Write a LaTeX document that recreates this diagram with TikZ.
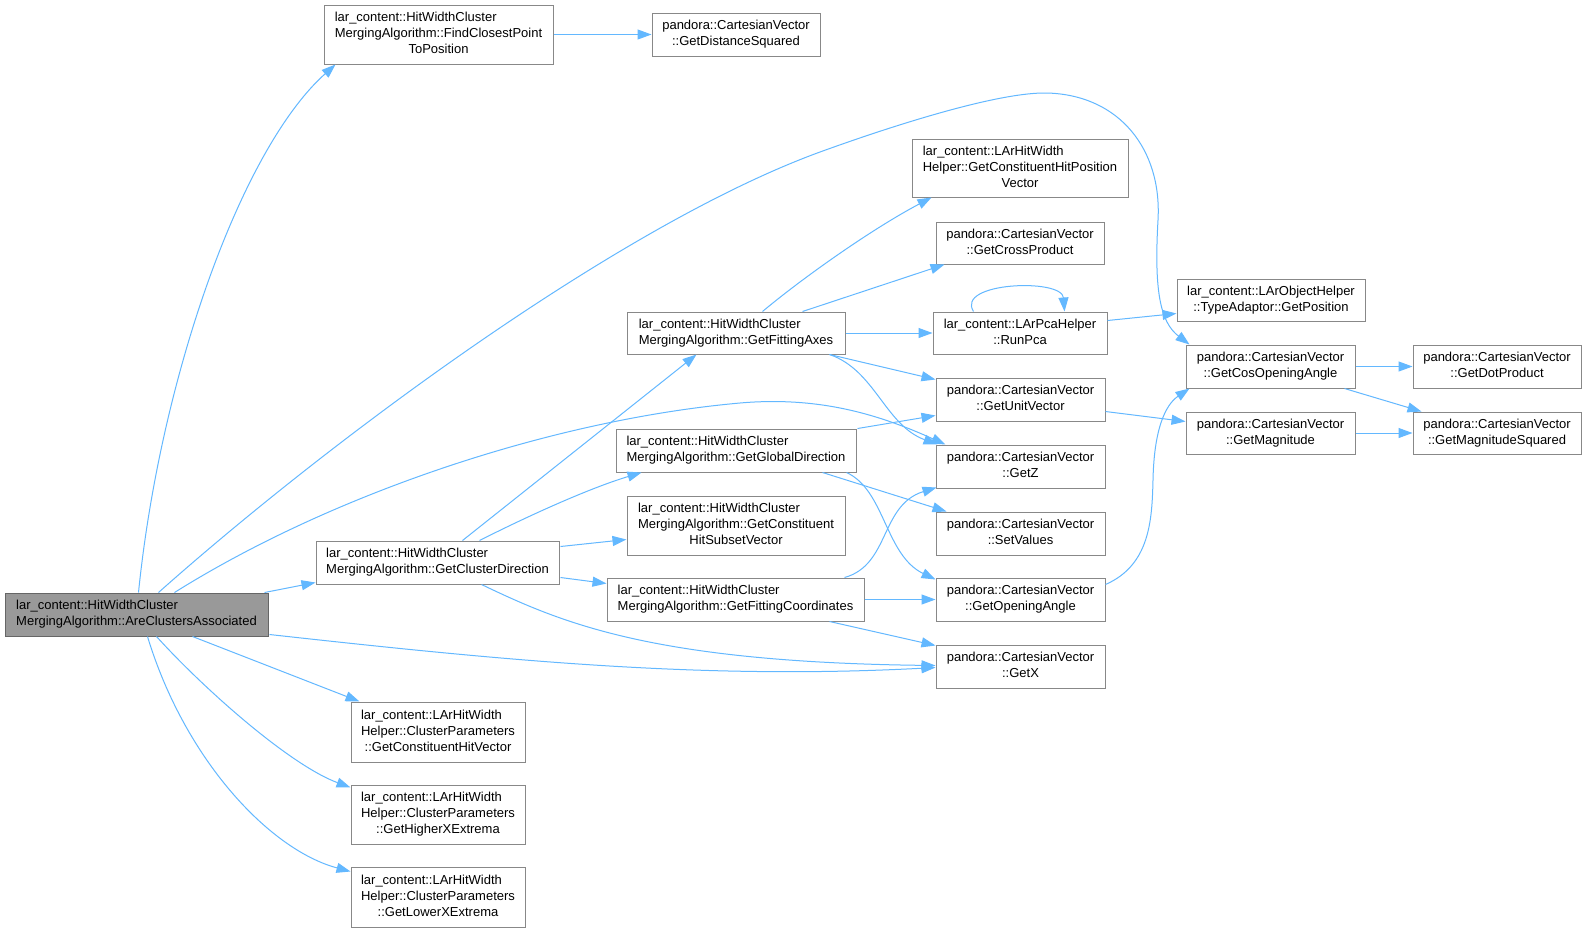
\documentclass[tikz,border=0pt]{standalone}
\usepackage{fontspec}
\setmainfont{Liberation Sans}
\usetikzlibrary{arrows.meta,calc}
\definecolor{edgeblue}{HTML}{63B8FF}
\definecolor{boxgray}{HTML}{888888}
\definecolor{rootfill}{HTML}{999999}
\definecolor{rootline}{HTML}{666666}
\newcommand{\lbl}[2]{\begin{tabular}{@{}l@{}}#1\\\multicolumn{1}{@{}c@{}}{#2}\end{tabular}}
\newcommand{\bx}[7][]{\node[box,#1,minimum width={(#5-#3)*1pt},minimum height={(#6-#4)*1pt}] (#2) at ({(#3+#5)/2},{(#4+#6)/2}) {#7};}
\tikzset{
  box/.style={draw=boxgray, fill=white, line width=1pt, inner sep=0pt, font=\fontsize{13}{16}\selectfont},
  rootbox/.style={fill=rootfill, draw=rootline},
  edge/.style={draw=edgeblue, line width=1pt, -{Triangle[length=14pt,width=10pt]}}
}
\begin{document}
\begin{tikzpicture}[x=1pt,y=-1pt]
\fill[white] (0,0) rectangle (1587,932);
\useasboundingbox (0,0) rectangle (1587,932);
% nodes
\bx[rootbox]{A}{5}{593}{268}{636}{\lbl{lar\_content::HitWidthCluster}{MergingAlgorithm::AreClustersAssociated}}
\bx{B}{324}{5}{553}{64}{\lbl{lar\_content::HitWidthCluster\\MergingAlgorithm::FindClosestPoint}{ToPosition}}
\bx{C}{652}{13}{820}{56}{\lbl{pandora::CartesianVector}{::GetDistanceSquared}}
\bx{D}{316}{541}{559}{584}{\lbl{lar\_content::HitWidthCluster}{MergingAlgorithm::GetClusterDirection}}
\bx{E}{627}{312}{845}{354}{\lbl{lar\_content::HitWidthCluster}{MergingAlgorithm::GetFittingAxes}}
\bx{F}{616}{429}{856}{472}{\lbl{lar\_content::HitWidthCluster}{MergingAlgorithm::GetGlobalDirection}}
\bx{G}{627}{496}{845}{555}{\lbl{lar\_content::HitWidthCluster\\MergingAlgorithm::GetConstituent}{HitSubsetVector}}
\bx{H}{607}{578}{864}{621}{\lbl{lar\_content::HitWidthCluster}{MergingAlgorithm::GetFittingCoordinates}}
\bx{I}{912}{139}{1128}{197}{\lbl{lar\_content::LArHitWidth\\Helper::GetConstituentHitPosition}{Vector}}
\bx{J}{936}{222}{1104}{264}{\lbl{pandora::CartesianVector}{::GetCrossProduct}}
\bx{K}{933}{312}{1107}{354}{\lbl{lar\_content::LArPcaHelper}{::RunPca}}
\bx{Q}{1177}{279}{1365}{321}{\lbl{lar\_content::LArObjectHelper}{::TypeAdaptor::GetPosition}}
\bx{R}{1186}{345}{1355}{388}{\lbl{pandora::CartesianVector}{::GetCosOpeningAngle}}
\bx{S}{1413}{345}{1581}{388}{\lbl{pandora::CartesianVector}{::GetDotProduct}}
\bx{L}{936}{378}{1105}{421}{\lbl{pandora::CartesianVector}{::GetUnitVector}}
\bx{T}{1186}{412}{1355}{454}{\lbl{pandora::CartesianVector}{::GetMagnitude}}
\bx{U}{1413}{412}{1581}{454}{\lbl{pandora::CartesianVector}{::GetMagnitudeSquared}}
\bx{M}{936}{445}{1105}{488}{\lbl{pandora::CartesianVector}{::GetZ}}
\bx{N}{936}{512}{1105}{555}{\lbl{pandora::CartesianVector}{::SetValues}}
\bx{O}{936}{578}{1105}{621}{\lbl{pandora::CartesianVector}{::GetOpeningAngle}}
\bx{P}{936}{645}{1105}{688}{\lbl{pandora::CartesianVector}{::GetX}}
\bx{V}{351}{702}{525}{762}{\lbl{lar\_content::LArHitWidth\\Helper::ClusterParameters}{::GetConstituentHitVector}}
\bx{W}{351}{785}{525}{844}{\lbl{lar\_content::LArHitWidth\\Helper::ClusterParameters}{::GetHigherXExtrema}}
\bx{X}{351}{867}{525}{927}{\lbl{lar\_content::LArHitWidth\\Helper::ClusterParameters}{::GetLowerXExtrema}}
% edges from A
\draw[edge] ($(A.north west)+(134,0)$) .. controls (160,380) and (240,150) .. ($(B.south west)+(12,0)$);
\draw[edge] ($(A.north west)+(154,0)$) .. controls (330,440) and (620,225) .. (820,152) .. controls (900,123) and (1000,92) .. (1047,93) .. controls (1120,95) and (1162,150) .. (1158,220) .. controls (1154,290) and (1160,322) .. ($(R.north west)+(4,0)$);
\draw[edge] ($(A.north west)+(170,0)$) .. controls (330,495) and (550,420) .. (740,403) .. controls (820,396) and (880,415) .. ($(M.north west)+(10,0)$);
\draw[edge] ($(A.north west)+(260,0)$) -- ($(D.south west)+(0,-2)$);
\draw[edge] ($(A.south east)+(1,-2)$) .. controls (500,660) and (700,680) .. ($(P.west)+(0,1)$);
\draw[edge] ($(A.south west)+(188,0)$) -- ($(V.north west)+(9,0)$);
\draw[edge] ($(A.south west)+(152,0)$) .. controls (205,690) and (290,765) .. ($(W.north west)+(0,3)$);
\draw[edge] ($(A.south west)+(143,0)$) .. controls (185,760) and (270,850) .. ($(X.north west)+(0,5)$);
% B
\draw[edge] (B) -- (C);
% D
\draw[edge] ($(D.north west)+(147,0)$) -- ($(E.south west)+(70,0)$);
\draw[edge] ($(D.north west)+(164,0)$) .. controls (530,515) and (590,488) .. ($(F.south west)+(26,0)$);
\draw[edge] ($(D.north east)+(1,6)$) -- ($(G.south west)+(0,-16)$);
\draw[edge] ($(D.south east)+(1,-7)$) -- ($(H.north west)+(0,6)$);
\draw[edge] ($(D.south west)+(166,0)$) .. controls (560,622) and (650,662) .. ($(P.west)+(0,-1)$);
% E
\draw[edge] ($(E.north west)+(136,0)$) .. controls (800,280) and (870,230) .. ($(I.south west)+(20,0)$);
\draw[edge] ($(E.north west)+(176,0)$) -- ($(J.south west)+(9,0)$);
\draw[edge] (E) -- (K);
\draw[edge] ($(E.south west)+(203,0)$) -- ($(L.north west)+(0,2)$);
\draw[edge] ($(E.south west)+(203,0)$) .. controls (875,370) and (885,425) .. ($(M.north west)+(2,0)$);
% K
\draw[edge] ($(K.north west)+(41,0)$) .. controls (955,282) and (1062,278) .. ($(K.north west)+(132,0)$);
\draw[edge] ($(K.north east)+(0,9)$) -- ($(Q.south west)+(0,-8)$);
% F
\draw[edge] ($(F.north east)+(1,0)$) -- ($(L.south west)+(0,-6)$);
\draw[edge] ($(F.south west)+(207,0)$) -- ($(N.north west)+(11,0)$);
\draw[edge] ($(F.south west)+(231,0)$) .. controls (885,490) and (885,555) .. ($(O.north west)+(0,2)$);
% H
\draw[edge] ($(H.north west)+(238,0)$) .. controls (890,565) and (880,505) .. ($(M.south west)+(1,-1)$);
\draw[edge] (H) -- (O);
\draw[edge] ($(H.south west)+(223,0)$) -- ($(P.north west)+(0,1)$);
% right part
\draw[edge] ($(L.south east)+(0,-10)$) -- ($(T.north west)+(0,10)$);
\draw[edge] ($(O.north east)+(0,7)$) .. controls (1150,565) and (1152,520) .. (1153,480) .. controls (1154,430) and (1165,405) .. ($(R.south west)+(4,0)$);
\draw[edge] (R) -- (S);
\draw[edge] ($(R.south west)+(159,0)$) -- ($(U.north west)+(9,0)$);
\draw[edge] (T) -- (U);
\end{tikzpicture}
\end{document}
